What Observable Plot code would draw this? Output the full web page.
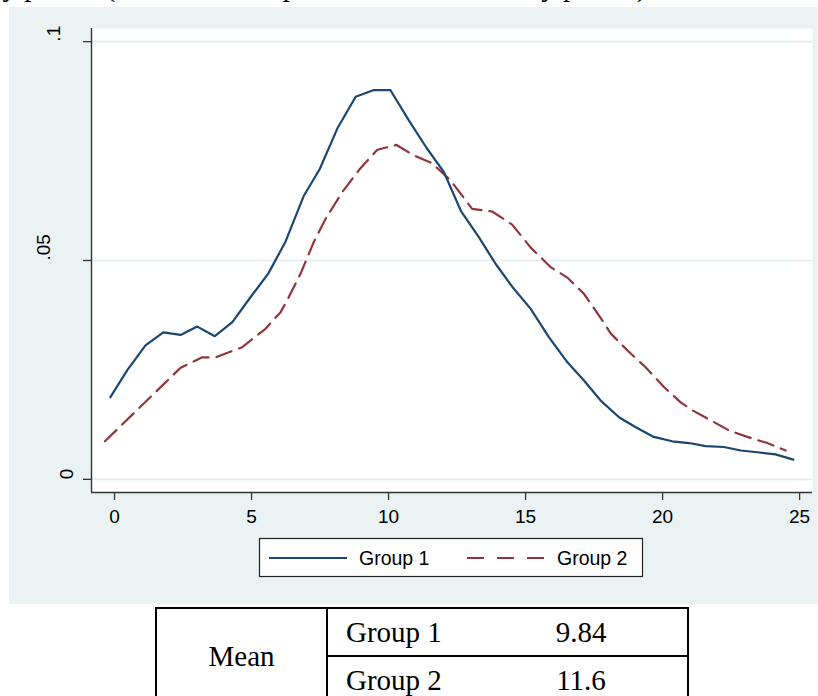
<!DOCTYPE html>
<html>
<head>
<meta charset="utf-8">
<script src="https://cdn.jsdelivr.net/npm/d3@7"></script>
<script src="https://cdn.jsdelivr.net/npm/@observablehq/plot@0.6"></script>
<style>
  html, body { margin: 0; padding: 0; background: #fff; }
  body { position: relative; width: 818px; height: 696px; overflow: hidden; }
  #caption {
    position: absolute; left: -12px; top: -28px;
    font: 29px/29px "Liberation Serif", "Times New Roman", serif;
    white-space: nowrap; color: #000;
  }
  #chart { position: absolute; left: 9px; top: 7px; }
  #means {
    position: absolute; left: 155px; top: 607px;
    border-collapse: collapse; table-layout: fixed; width: 532px;
    font: 29px "Liberation Serif", "Times New Roman", serif; color: #000;
    border: 2px solid #000;
  }
  #means td { height: 46px; padding: 0; vertical-align: middle; }
  #means td.label { text-align: center; border-right: 2px solid #000; }
  #means td.name { padding-left: 18px; }
  #means td.value { text-align: center; }
  #means tr.first td.name, #means tr.first td.value { border-bottom: 2px solid #000; }
</style>
</head>
<body>
<div id="caption"></div>
<div id="chart"></div>
<script>
// Kernel density estimates for the two groups
const groups = ["Group 1", "Group 2"];
const colors = ["#1a476f", "#90353b"];

const group1X = [-0.15, 0.46, 1.13, 1.78, 2.41, 3.02, 3.66, 4.30, 4.96, 5.61, 6.24, 6.91, 7.49, 8.15,
  8.80, 9.44, 10.07, 10.74, 11.39, 12.02, 12.65, 13.30, 13.91, 14.55, 15.18, 15.85, 16.52, 17.13,
  17.74, 18.41, 19.02, 19.68, 20.35, 20.96, 21.57, 22.24, 22.85, 23.46, 24.12, 24.77];
const group1Y = [0.0188, 0.0249, 0.0306, 0.0336, 0.0330, 0.0349, 0.0327, 0.0359, 0.0416, 0.0470,
  0.0543, 0.0648, 0.0709, 0.0804, 0.0874, 0.0889, 0.0889, 0.0820, 0.0757, 0.0702, 0.0612, 0.0553,
  0.0492, 0.0437, 0.0390, 0.0325, 0.0268, 0.0226, 0.0180, 0.0142, 0.0119, 0.0097, 0.0087, 0.0083,
  0.0076, 0.0074, 0.0066, 0.0062, 0.0057, 0.0045];

const group2X = [-0.35, 2.41, 3.20, 3.66, 4.66, 5.51, 6.06, 6.30, 6.79, 7.27, 7.70, 8.31, 8.95, 9.59,
  10.29, 10.92, 11.59, 12.26, 13.05, 13.78, 14.51, 15.18, 15.91, 16.52, 17.13, 17.80, 18.10, 18.71,
  19.38, 20.05, 20.66, 21.08, 21.75, 22.42, 23.09, 23.82, 24.49];
const group2Y = [0.0087, 0.0255, 0.0279, 0.0278, 0.0302, 0.0344, 0.0382, 0.0409, 0.0470, 0.0542,
  0.0595, 0.0656, 0.0709, 0.0753, 0.0764, 0.0740, 0.0722, 0.0683, 0.0618, 0.0612, 0.0582, 0.0530,
  0.0485, 0.0461, 0.0424, 0.0363, 0.0334, 0.0295, 0.0256, 0.0211, 0.0176, 0.0158, 0.0135, 0.0112,
  0.0097, 0.0083, 0.0066];

const xTicks = [0, 5, 10, 15, 20, 25];
const yTicks = [0, 0.05, 0.1];
const yTickLabels = ["0", ".05", ".1"];

const meanLabel = "Mean";
const means = [9.84, 11.6];

const captionText = "by period (the whole sample is the same in every period)";

// ---- chart ----
const series1 = group1X.map((x, i) => ({x, y: group1Y[i]}));
const series2 = group2X.map((x, i) => ({x, y: group2Y[i]}));

const xDomain = [-0.84, 25.47];
const yDomain = [-0.003, 0.103];
const yLabelShift = [-25, -48, -38];

const chart = Plot.plot({
  width: 809,
  height: 597,
  marginLeft: 82,
  marginRight: 6,
  marginTop: 21,
  marginBottom: 112,
  style: {background: "#eaf2f3", fontFamily: "'Liberation Sans', Arial, sans-serif", fontSize: "19px", color: "#000", overflow: "visible"},
  x: {domain: xDomain, label: null},
  y: {domain: yDomain, label: null},
  marks: [
    Plot.frame({fill: "#fff", stroke: null}),
    Plot.gridY(yTicks, {stroke: "#e3edf0", strokeOpacity: 1, strokeWidth: 1.6}),
    Plot.ruleX([xDomain[0]], {stroke: "#333", strokeWidth: 1.4}),
    Plot.ruleY([yDomain[0]], {stroke: "#333", strokeWidth: 1.4}),
    Plot.axisX(xTicks, {label: null, tickSize: 8, tickPadding: 9, fontSize: 19, stroke: "#333", fill: "#000", strokeWidth: 1.3, tickFormat: d => String(d)}),
    Plot.axisY(yTicks, {label: null, tickSize: 8, stroke: "#333", strokeWidth: 1.3, tickFormat: () => ""}),
    ...yTicks.map((t, i) => Plot.text([t], {
      y: d => d, text: () => yTickLabels[i], frameAnchor: "left", rotate: -90,
      dx: yLabelShift[i], fontSize: 19, fill: "#000"
    })),
    Plot.line(series2, {x: "x", y: "y", stroke: colors[1], strokeWidth: 2.2, strokeDasharray: "16,8"}),
    Plot.line(series1, {x: "x", y: "y", stroke: colors[0], strokeWidth: 2.2})
  ]
});
document.getElementById("chart").append(chart);

// legend inside the graph region
const legend = d3.select(chart).append("g")
  .attr("font-family", "'Liberation Sans', Arial, sans-serif")
  .attr("font-size", 19.5)
  .attr("text-anchor", "start");
legend.append("rect")
  .attr("x", 250.5).attr("y", 531.5).attr("width", 383).attr("height", 38)
  .attr("fill", "#fff").attr("stroke", "#222").attr("stroke-width", 1.2);
groups.forEach((g, i) => {
  const x0 = 260 + i * 198;
  legend.append("line")
    .attr("x1", x0).attr("x2", x0 + 78).attr("y1", 551).attr("y2", 551)
    .attr("stroke", colors[i]).attr("stroke-width", 2.2)
    .attr("stroke-dasharray", i ? "17,13" : null);
  legend.append("text").attr("x", x0 + 90).attr("y", 558).attr("fill", "#000")
    .attr("text-anchor", "start").text(g);
});

// caption line above the figure
document.getElementById("caption").textContent = captionText;

// table of group means
const table = document.createElement("table");
table.id = "means";
const cols = document.createElement("colgroup");
[171, 148, 213].forEach(w => { const c = document.createElement("col"); c.style.width = w + "px"; cols.append(c); });
table.append(cols);
groups.forEach((g, i) => {
  const tr = document.createElement("tr");
  if (i === 0) {
    tr.className = "first";
    const td = document.createElement("td");
    td.className = "label"; td.rowSpan = groups.length; td.textContent = meanLabel;
    tr.append(td);
  }
  const name = document.createElement("td");
  name.className = "name"; name.textContent = g;
  const val = document.createElement("td");
  val.className = "value"; val.textContent = String(means[i]);
  tr.append(name, val);
  table.append(tr);
});
document.body.append(table);
</script>
</body>
</html>
